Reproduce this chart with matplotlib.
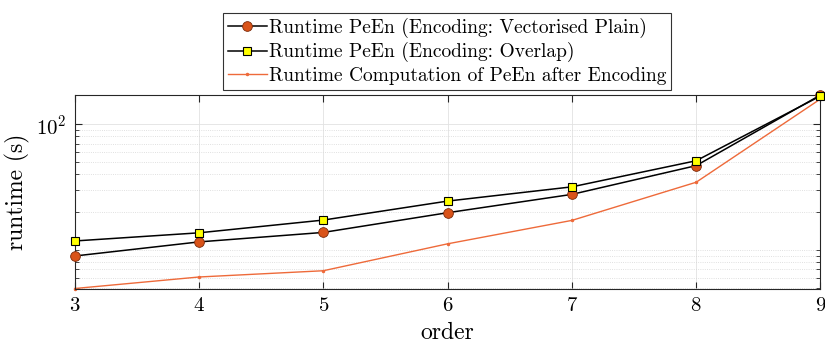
import numpy as np
import matplotlib
matplotlib.use('Agg')
import matplotlib.pyplot as plt
from matplotlib.ticker import FixedLocator, NullFormatter

plt.rcParams['font.family'] = 'serif'
plt.rcParams['font.serif'] = ['cmr10']
plt.rcParams['mathtext.fontset'] = 'cm'
plt.rcParams['axes.formatter.use_mathtext'] = True

# Runtime data per order
orders = [3, 4, 5, 6, 7, 8, 9]
rt_plain = [8.96, 11.6, 13.8, 19.8, 27.7, 46.9, 171]
rt_overlap = [11.8, 13.7, 17.3, 24.5, 31.8, 51.3, 168]
rt_compute = [4.94, 6.1, 6.84, 11.2, 17.2, 34.6, 159]

fig = plt.figure(figsize=(8.25, 3.44), dpi=100)
ax = fig.add_axes([0.0905, 0.1613, 0.904, 0.5625])

ax.plot(orders, rt_plain, '-o', color='black', lw=1.1, ms=7,
        mfc='#D95319', mec='#7a2a0a', mew=0.6, clip_on=False, zorder=3,
        label='Runtime PeEn (Encoding: Vectorised Plain)')
ax.plot(orders, rt_overlap, '-s', color='black', lw=1.1, ms=6,
        mfc='yellow', mec='black', mew=0.8, clip_on=False, zorder=4,
        label='Runtime PeEn (Encoding: Overlap)')
ax.plot(orders, rt_compute, '.-', color='#EE6A3A', lw=1.0, ms=3,
        clip_on=False, zorder=2,
        label='Runtime Computation of PeEn after Encoding')

ax.set_yscale('log')
ax.set_xlim(3, 9)
ax.set_ylim(4.94, 171)
ax.set_xticks(orders)
ax.yaxis.set_major_locator(FixedLocator([100]))
minors = [5, 6, 7, 8, 9, 10, 20, 30, 40, 50, 60, 70, 80, 90]
ax.yaxis.set_minor_locator(FixedLocator(minors))
ax.yaxis.set_minor_formatter(NullFormatter())

ax.grid(True, which='major', color='#e2e2e2', lw=0.6)
ax.grid(True, which='minor', axis='y', color='#d6d6d6', lw=0.6, ls=':')
ax.set_axisbelow(True)

ax.tick_params(which='both', direction='in', top=True, right=True,
               labelsize=15, color='#262626')
ax.tick_params(which='major', length=5, pad=6)
ax.tick_params(which='minor', length=3)
for s in ax.spines.values():
    s.set_color('#262626')
    s.set_linewidth(0.8)

ax.set_xlabel('order', fontsize=17, labelpad=5)
ax.set_ylabel('runtime (s)', fontsize=17, labelpad=4)

leg = fig.legend(loc='upper center', bbox_to_anchor=(0.542, 0.962),
                 fontsize=14, frameon=True, fancybox=False,
                 edgecolor='black', handlelength=2.0, handletextpad=0.1,
                 borderpad=0.25, labelspacing=0.22, borderaxespad=0)
leg.get_frame().set_linewidth(0.8)

fig.savefig('out.png', dpi=100)
